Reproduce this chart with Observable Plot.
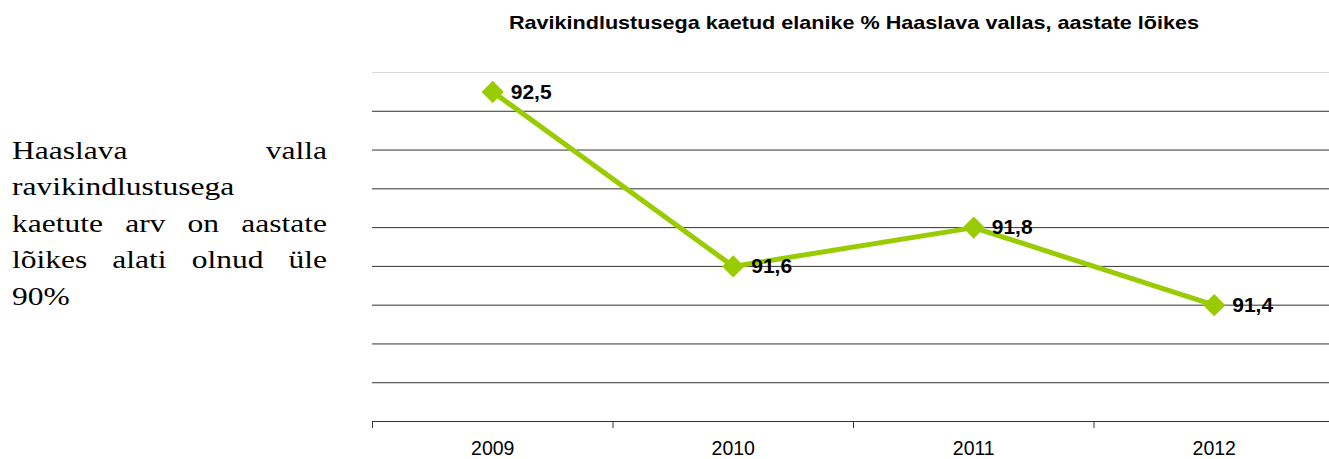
<!DOCTYPE html>
<html>
<head>
<meta charset="utf-8">
<script src="https://cdn.jsdelivr.net/npm/d3@7"></script>
<script src="https://cdn.jsdelivr.net/npm/@observablehq/plot@0.6"></script>
<style>
  html, body { margin: 0; padding: 0; background: #fff; }
  #wrap { position: relative; width: 1329px; height: 459px; overflow: hidden; }
  #chart { position: absolute; left: 0; top: 0; }
  #title {
    position: absolute; left: 354px; width: 1000px; top: 12px;
    text-align: center; font-family: "Liberation Sans", Arial, sans-serif;
    font-weight: bold; font-size: 21.6px; line-height: 26px; color: #000; white-space: nowrap;
    transform: scaleY(0.83); transform-origin: center top;
  }
  #side {
    position: absolute; left: 12px; top: 133px; width: 315px;
    font-family: "Liberation Serif", "Times New Roman", serif;
    font-size: 31.5px; line-height: 45.4px; color: #000;
    transform: scaleY(0.8); transform-origin: left top;
  }
  #side .j { text-align: justify; text-align-last: justify; }
  #side .l { text-align: left; }
</style>
</head>
<body>
<div id="wrap">
  <div id="chart"></div>
  <div id="title">Ravikindlustusega kaetud elanike % Haaslava vallas, aastate lõikes</div>
  <div id="side">
    <div class="j">Haaslava valla</div>
    <div class="l">ravikindlustusega</div>
    <div class="j">kaetute arv on aastate</div>
    <div class="j">lõikes alati olnud üle</div>
    <div class="l">90%</div>
  </div>
</div>
<script>
const years = [2009, 2010, 2011, 2012];
const values = [92.5, 91.6, 91.8, 91.4];
const gridValues = [91.0, 91.2, 91.4, 91.6, 91.8, 92.0, 92.2, 92.4];
const topGrid = [92.6];
const baseValue = [90.8];
const bandEdges = [2008.5, 2009.5, 2010.5, 2011.5];
const xDomain = [2008.5, 2012.5];

const data = years.map((year, i) => ({year, value: values[i]}));
const fmt = v => v.toFixed(1).replace(".", ",");

const chart = Plot.plot({
  width: 1329,
  height: 459,
  marginLeft: 372,
  marginRight: 0,
  marginTop: 72,
  marginBottom: 38,
  style: {fontFamily: "'Liberation Sans', Arial, sans-serif", background: "transparent"},
  x: {domain: xDomain, range: [372, 1334], label: null, axis: null},
  y: {domain: [baseValue[0], topGrid[0]], axis: null, label: null},
  marks: [
    Plot.ruleY(topGrid, {stroke: "#d9d9d9", strokeWidth: 1}),
    Plot.ruleY(gridValues, {stroke: "#333333", strokeWidth: 1}),
    Plot.ruleY(baseValue, {stroke: "#333333", strokeWidth: 1}),
    Plot.axisX(bandEdges, {tickSize: 7, tickFormat: () => "", stroke: "#333333", label: null}),
    Plot.axisX(years, {tickSize: 0, tickPadding: 20, tickFormat: d => String(d), fontSize: 19.5, fill: "#000", label: null}),
    Plot.line(data, {x: "year", y: "value", stroke: "#99cc00", strokeWidth: 5}),
    Plot.dot(data, {x: "year", y: "value", symbol: "diamond2", r: 10, fill: "#99cc00", stroke: "none"}),
    Plot.text(data, {x: "year", y: "value", text: d => fmt(d.value), dx: 18, textAnchor: "start", fontWeight: "bold", fontSize: 21, fill: "#000"})
  ]
});
document.getElementById("chart").appendChild(chart);
</script>
</body>
</html>
